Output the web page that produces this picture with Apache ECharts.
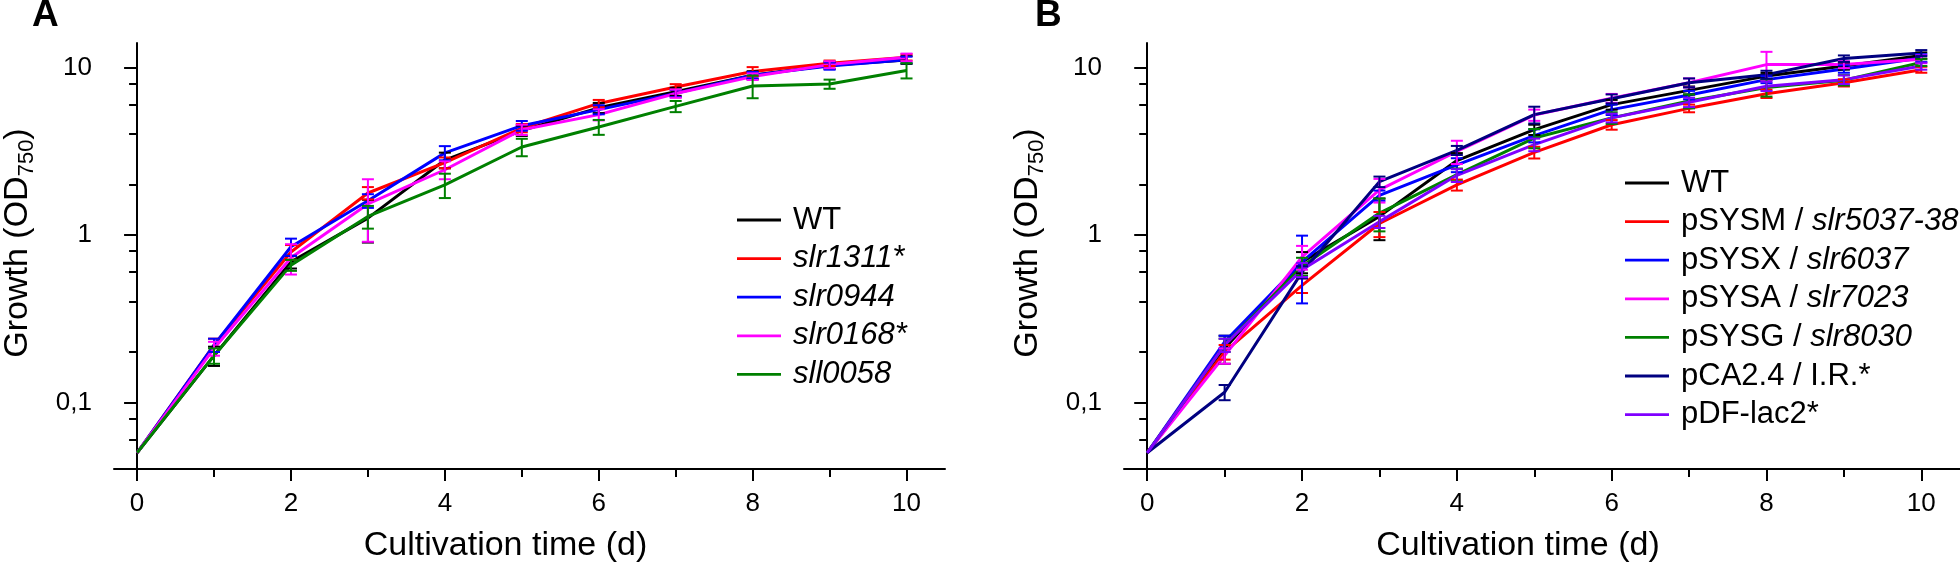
<!DOCTYPE html>
<html><head><meta charset="utf-8">
<script src="https://cdn.jsdelivr.net/npm/echarts@6/dist/echarts.min.js"></script>
<style>html,body{margin:0;padding:0;background:#fff}#c{width:1960px;height:575px}</style>
</head><body><div id="c"></div>
<script>
// ---------- data ----------
const days = [0,1,2,3,4,5,6,7,8,9,10];
const xLabelTicks = [0,2,4,6,8,10];
const xMinorTicks = [1,3,5,7,9];
const yLabelTicks = [0.1,1,10];
const yMinorTicks = [0.06,0.08,0.2,0.4,0.6,0.8,2,4,6,8];

// Panel A
const labelsA = [['WT',''],['','slr1311*'],['','slr0944'],['','slr0168*'],['','sll0058']];
const colorsA = ['#000000','#ff0000','#0000ff','#ff00ff','#008000'];
const wtA      = [0.05,0.19,0.69,1.26,2.80,4.20,5.74,7.17,9.00,10.3,11.1];
const slr1311  = [0.05,0.22,0.79,1.78,2.70,4.35,6.10,7.65,9.45,10.6,11.5];
const slr0944  = [0.05,0.22,0.85,1.60,3.09,4.49,5.60,7.00,9.00,10.2,11.1];
const slr0168  = [0.05,0.21,0.73,1.53,2.45,4.25,5.23,6.99,8.82,10.4,11.5];
const sll0058  = [0.05,0.19,0.66,1.29,1.99,3.35,4.41,5.86,7.75,7.96,9.6];
const wtAErr      = [0,0.025,0.06,0.36,0.30,0.30,0.40,0.40,0.50,0.50,0.60];
const slr1311Err  = [0,0.02,0.08,0.15,0.20,0.25,0.30,0.30,0.60,0.40,0.50];
const slr0944Err  = [0,0.02,0.10,0.15,0.30,0.30,0.35,0.35,0.40,0.50,0.50];
const slr0168Err  = [0,0.02,0.15,0.62,0.30,0.30,0.40,0.40,0.40,0.50,0.60];
const sll0058Err  = [0,0.02,0.05,0.20,0.33,0.40,0.45,0.45,1.20,0.50,1.00];

// Panel B
const labelsB = [['WT',''],['pSYSM / ','slr5037-38'],['pSYSX / ','slr6037'],['pSYSA / ','slr7023'],['pSYSG / ','slr8030'],['pCA2.4 / I.R.*',''],['pDF-lac2*','']];
const colorsB = ['#000000','#ff0000','#0000ff','#ff00ff','#008000','#000080','#8000ff'];
const wtB   = [0.05,0.21,0.69,1.29,2.78,4.25,6.00,7.30,8.88,10.2,11.8];
const pSYSM = [0.05,0.20,0.50,1.17,1.99,3.11,4.55,5.70,6.97,8.10,9.7];
const pSYSX = [0.05,0.23,0.69,1.72,2.62,3.92,5.60,6.85,8.46,9.80,11.4];
const pSYSA = [0.05,0.19,0.74,1.86,3.15,5.20,6.55,8.10,10.4,10.4,11.2];
const pSYSG = [0.05,0.22,0.65,1.35,2.29,3.79,5.00,6.30,7.60,8.40,10.7];
const pCA24 = [0.05,0.115,0.60,2.08,3.20,5.23,6.50,8.10,9.06,11.3,12.2];
const pDF   = [0.05,0.22,0.62,1.20,2.27,3.46,5.00,6.20,7.73,8.46,10.2];
const wtBErr   = [0,0.04,0.10,0.36,0.30,0.30,0.40,0.40,0.40,0.50,0.50];
const pSYSMErr = [0,0.02,0.05,0.20,0.15,0.25,0.30,0.30,0.40,0.40,0.40];
const pSYSXErr = [0,0.02,0.30,0.12,0.25,0.35,0.40,0.40,0.40,0.50,0.60];
const pSYSAErr = [0,0.02,0.12,0.30,0.50,0.40,0.40,0.50,2.00,0.50,0.60];
const pSYSGErr = [0,0.02,0.08,0.30,0.20,0.50,0.40,0.60,0.90,0.60,0.50];
const pCA24Err = [0,0.012,0.05,0.15,0.20,0.60,0.40,0.50,0.50,0.50,0.50];
const pDFErr   = [0,0.02,0.06,0.10,0.20,0.30,0.30,0.40,0.50,0.50,0.50];

const seriesA = [wtA, slr1311, slr0944, slr0168, sll0058];
const errsA = [wtAErr, slr1311Err, slr0944Err, slr0168Err, sll0058Err];
const seriesB = [wtB, pSYSM, pSYSX, pSYSA, pSYSG, pCA24, pDF];
const errsB = [wtBErr, pSYSMErr, pSYSXErr, pSYSAErr, pSYSGErr, pCA24Err, pDFErr];

// ---------- chart ----------
const FF = '"Liberation Sans", Arial, sans-serif';
const chart = echarts.init(document.getElementById('c'), null, {renderer: 'canvas'});

function xAxes(grid) {
  const base = {gridIndex: grid, type: 'value', min: -0.3, max: 10.5, position: 'bottom', splitLine: {show: false}};
  return [
    Object.assign({}, base, {
      axisLine: {show: true, lineStyle: {color: '#000', width: 2}},
      axisTick: {show: true, customValues: xLabelTicks, length: 12, lineStyle: {color: '#000', width: 2}},
      axisLabel: {show: true, customValues: xLabelTicks, fontSize: 26, fontFamily: FF, color: '#000', margin: 22},
      name: 'Cultivation time (d)', nameLocation: 'middle', nameGap: 60,
      nameTextStyle: {fontSize: 34, fontFamily: FF, color: '#000', padding: [0, 48, 0, 0]}
    }),
    Object.assign({}, base, {
      axisLine: {show: false},
      axisTick: {show: true, customValues: xMinorTicks, length: 8, lineStyle: {color: '#000', width: 2}},
      axisLabel: {show: false}
    })
  ];
}
function yAxes(grid) {
  const base = {gridIndex: grid, type: 'log', logBase: 10, min: 0.04, max: 14, position: 'left', splitLine: {show: false}};
  return [
    Object.assign({}, base, {
      axisLine: {show: true, lineStyle: {color: '#000', width: 2}},
      axisTick: {show: true, customValues: yLabelTicks, length: 13, lineStyle: {color: '#000', width: 2}},
      axisLabel: {show: true, customValues: yLabelTicks, fontSize: 26, fontFamily: FF, color: '#000', margin: 22,
        formatter: v => String(v).replace('.', ',')},
      name: '{a|Growth (OD}{s|750}{a|)}', nameLocation: 'middle', nameGap: 76,
      nameTextStyle: {padding: [0, 0, 0, 26], rich: {
        a: {fontSize: 34, fontFamily: FF, color: '#000', lineHeight: 40},
        s: {fontSize: 22, fontFamily: FF, color: '#000', lineHeight: 22, verticalAlign: 'bottom'}
      }}
    }),
    Object.assign({}, base, {
      axisLine: {show: false},
      axisTick: {show: true, customValues: yMinorTicks, length: 8, lineStyle: {color: '#000', width: 2}},
      axisLabel: {show: false}
    })
  ];
}

function errRender(color) {
  return function (params, api) {
    const x = api.value(0), y = api.value(1), e = api.value(2);
    if (!e) return null;
    const top = api.coord([x, y + e]);
    const bot = api.coord([x, Math.max(y - e, 0.041)]);
    const w = 6;
    const st = {stroke: color, lineWidth: 2, fill: null};
    return {type: 'group', children: [
      {type: 'line', shape: {x1: top[0], y1: top[1], x2: bot[0], y2: bot[1]}, style: st},
      {type: 'line', shape: {x1: top[0] - w, y1: top[1], x2: top[0] + w, y2: top[1]}, style: st},
      {type: 'line', shape: {x1: bot[0] - w, y1: bot[1], x2: bot[0] + w, y2: bot[1]}, style: st}
    ]};
  };
}

const labelMap = {};
function buildSeries(prefix, labels, colors, vals, errs, xi, yi) {
  const lines = [], bars = [], names = [];
  labels.forEach((lab, k) => {
    const name = prefix + k;
    names.push(name);
    labelMap[name] = lab;
    lines.push({
      name, type: 'line', xAxisIndex: xi, yAxisIndex: yi,
      data: days.map((d, i) => [d, vals[k][i]]),
      symbol: 'none', showSymbol: false, color: colors[k],
      lineStyle: {color: colors[k], width: 3}, z: 3, silent: true
    });
    bars.push({
      name: name + 'err', type: 'custom', xAxisIndex: xi, yAxisIndex: yi,
      data: days.map((d, i) => [d, vals[k][i], errs[k][i]]),
      encode: {x: 0, y: 1}, renderItem: errRender(colors[k]), z: 4, silent: true
    });
  });
  return {list: lines.concat(bars), names};
}

const A = buildSeries('A', labelsA, colorsA, seriesA, errsA, 0, 0);
const B = buildSeries('B', labelsB, colorsB, seriesB, errsB, 2, 2);

function legendFmt(name) {
  const lab = labelMap[name];
  let s = '{g|}';
  if (lab[0]) s += '{n|' + lab[0] + '}';
  if (lab[1]) s += '{i|' + lab[1] + '}';
  return s;
}
const legendText = {
  fontSize: 31, fontFamily: FF, color: '#000', lineHeight: 34,
  rich: {
    g: {width: 7, lineHeight: 34},
    n: {fontSize: 31, fontFamily: FF, color: '#000', lineHeight: 34},
    i: {fontSize: 31, fontFamily: FF, color: '#000', fontStyle: 'italic', lineHeight: 34}
  }
};
function legend(names, left, top) {
  return {
    data: names, orient: 'vertical', left, top, itemWidth: 44, itemHeight: 14, itemGap: 4.6,
    formatter: legendFmt, textStyle: legendText, selectedMode: false, padding: 0,
    icon: 'path://M0,6 L44,6 L44,8.8 L0,8.8 Z'
  };
}

chart.setOption({
  animation: false,
  backgroundColor: '#ffffff',
  grid: [
    {left: 113, top: 43, width: 832, height: 426},
    {left: 1124, top: 43, width: 836, height: 426}
  ],
  xAxis: xAxes(0).concat(xAxes(1)),
  yAxis: yAxes(0).concat(yAxes(1)),
  legend: [legend(A.names, 737, 203), legend(B.names, 1625, 166)],
  series: A.list.concat(B.list),
  graphic: [
    {type: 'text', left: 32, top: -3, style: {text: 'A', font: 'bold 37px "Liberation Sans"', fill: '#000'}},
    {type: 'text', left: 1035, top: -3, style: {text: 'B', font: 'bold 37px "Liberation Sans"', fill: '#000'}}
  ]
});
</script></body></html>
